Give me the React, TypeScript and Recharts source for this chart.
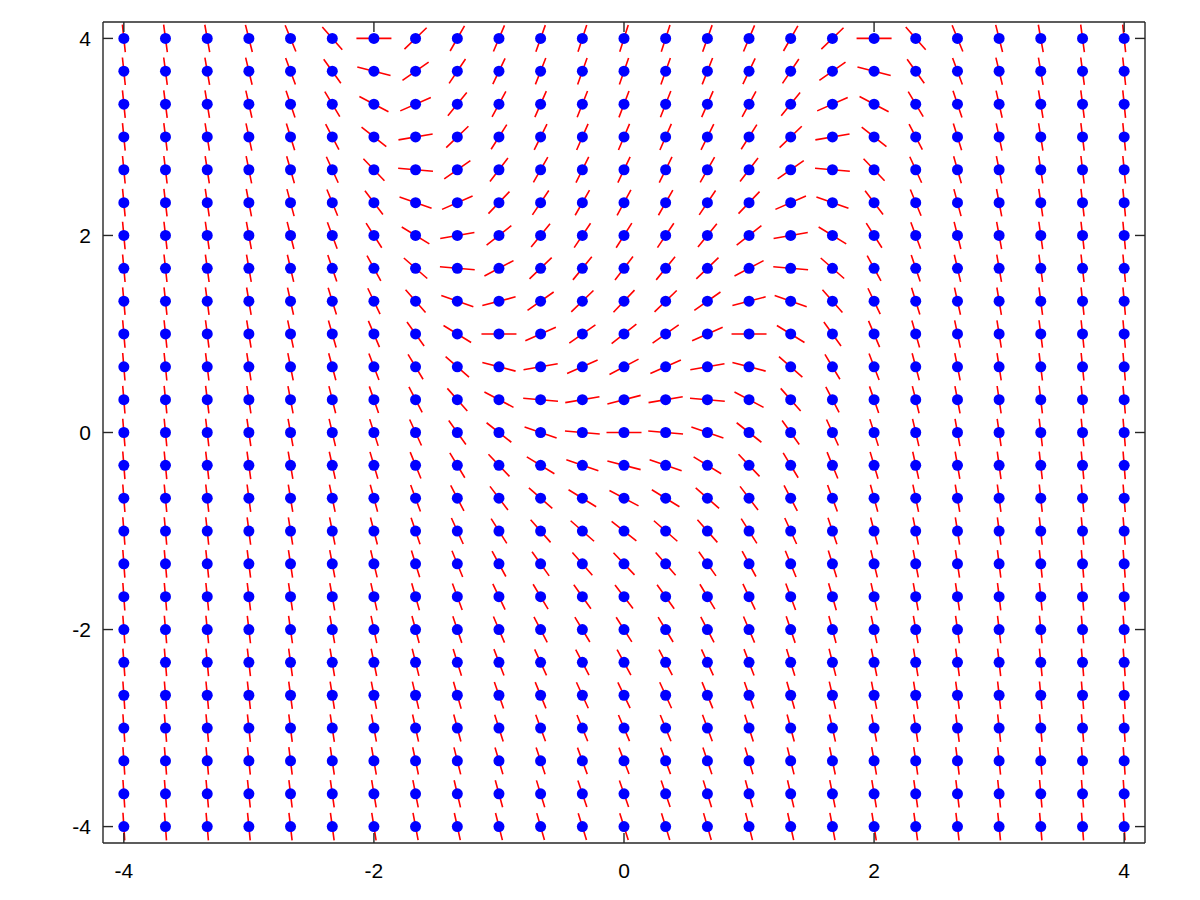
import {
  ComposedChart,
  Line,
  Scatter,
  XAxis,
  YAxis,
} from "recharts";

// grid positions (columns left to right, rows top to bottom)
const xValues = [
  -4, -3.667, -3.333, -3, -2.667, -2.333, -2, -1.667, -1.333, -1, -0.667, -0.333,
  0, 0.333, 0.667, 1, 1.333, 1.667, 2, 2.333, 2.667, 3, 3.333, 3.667, 4,
];
const yValues = [
  4, 3.667, 3.333, 3, 2.667, 2.333, 2, 1.667, 1.333, 1, 0.667, 0.333,
  0, -0.333, -0.667, -1, -1.333, -1.667, -2, -2.333, -2.667, -3, -3.333, -3.667, -4,
];

// slope read at every grid point, one row per y value
const slopes = [
  [-12, -9.44, -7.11, -5, -3.11, -1.44, 0, 1.22, 2.22, 3, 3.56, 3.89, 4, 3.89, 3.56, 3, 2.22, 1.22, 0, -1.44, -3.11, -5, -7.11, -9.44, -12],
  [-12.33, -9.78, -7.44, -5.33, -3.44, -1.78, -0.33, 0.89, 1.89, 2.67, 3.22, 3.56, 3.67, 3.56, 3.22, 2.67, 1.89, 0.89, -0.33, -1.78, -3.44, -5.33, -7.44, -9.78, -12.33],
  [-12.67, -10.11, -7.78, -5.67, -3.78, -2.11, -0.67, 0.56, 1.56, 2.33, 2.89, 3.22, 3.33, 3.22, 2.89, 2.33, 1.56, 0.56, -0.67, -2.11, -3.78, -5.67, -7.78, -10.11, -12.67],
  [-13, -10.44, -8.11, -6, -4.11, -2.44, -1, 0.22, 1.22, 2, 2.56, 2.89, 3, 2.89, 2.56, 2, 1.22, 0.22, -1, -2.44, -4.11, -6, -8.11, -10.44, -13],
  [-13.33, -10.78, -8.44, -6.33, -4.44, -2.78, -1.33, -0.11, 0.89, 1.67, 2.22, 2.56, 2.67, 2.56, 2.22, 1.67, 0.89, -0.11, -1.33, -2.78, -4.44, -6.33, -8.44, -10.78, -13.33],
  [-13.67, -11.11, -8.78, -6.67, -4.78, -3.11, -1.67, -0.44, 0.56, 1.33, 1.89, 2.22, 2.33, 2.22, 1.89, 1.33, 0.56, -0.44, -1.67, -3.11, -4.78, -6.67, -8.78, -11.11, -13.67],
  [-14, -11.44, -9.11, -7, -5.11, -3.44, -2, -0.78, 0.22, 1, 1.56, 1.89, 2, 1.89, 1.56, 1, 0.22, -0.78, -2, -3.44, -5.11, -7, -9.11, -11.44, -14],
  [-14.33, -11.78, -9.44, -7.33, -5.44, -3.78, -2.33, -1.11, -0.11, 0.67, 1.22, 1.56, 1.67, 1.56, 1.22, 0.67, -0.11, -1.11, -2.33, -3.78, -5.44, -7.33, -9.44, -11.78, -14.33],
  [-14.67, -12.11, -9.78, -7.67, -5.78, -4.11, -2.67, -1.44, -0.44, 0.33, 0.89, 1.22, 1.33, 1.22, 0.89, 0.33, -0.44, -1.44, -2.67, -4.11, -5.78, -7.67, -9.78, -12.11, -14.67],
  [-15, -12.44, -10.11, -8, -6.11, -4.44, -3, -1.78, -0.78, 0, 0.56, 0.89, 1, 0.89, 0.56, 0, -0.78, -1.78, -3, -4.44, -6.11, -8, -10.11, -12.44, -15],
  [-15.33, -12.78, -10.44, -8.33, -6.44, -4.78, -3.33, -2.11, -1.11, -0.33, 0.22, 0.56, 0.67, 0.56, 0.22, -0.33, -1.11, -2.11, -3.33, -4.78, -6.44, -8.33, -10.44, -12.78, -15.33],
  [-15.67, -13.11, -10.78, -8.67, -6.78, -5.11, -3.67, -2.44, -1.44, -0.67, -0.11, 0.22, 0.33, 0.22, -0.11, -0.67, -1.44, -2.44, -3.67, -5.11, -6.78, -8.67, -10.78, -13.11, -15.67],
  [-16, -13.44, -11.11, -9, -7.11, -5.44, -4, -2.78, -1.78, -1, -0.44, -0.11, 0, -0.11, -0.44, -1, -1.78, -2.78, -4, -5.44, -7.11, -9, -11.11, -13.44, -16],
  [-16.33, -13.78, -11.44, -9.33, -7.44, -5.78, -4.33, -3.11, -2.11, -1.33, -0.78, -0.44, -0.33, -0.44, -0.78, -1.33, -2.11, -3.11, -4.33, -5.78, -7.44, -9.33, -11.44, -13.78, -16.33],
  [-16.67, -14.11, -11.78, -9.67, -7.78, -6.11, -4.67, -3.44, -2.44, -1.67, -1.11, -0.78, -0.67, -0.78, -1.11, -1.67, -2.44, -3.44, -4.67, -6.11, -7.78, -9.67, -11.78, -14.11, -16.67],
  [-17, -14.44, -12.11, -10, -8.11, -6.44, -5, -3.78, -2.78, -2, -1.44, -1.11, -1, -1.11, -1.44, -2, -2.78, -3.78, -5, -6.44, -8.11, -10, -12.11, -14.44, -17],
  [-17.33, -14.78, -12.44, -10.33, -8.44, -6.78, -5.33, -4.11, -3.11, -2.33, -1.78, -1.44, -1.33, -1.44, -1.78, -2.33, -3.11, -4.11, -5.33, -6.78, -8.44, -10.33, -12.44, -14.78, -17.33],
  [-17.67, -15.11, -12.78, -10.67, -8.78, -7.11, -5.67, -4.44, -3.44, -2.67, -2.11, -1.78, -1.67, -1.78, -2.11, -2.67, -3.44, -4.44, -5.67, -7.11, -8.78, -10.67, -12.78, -15.11, -17.67],
  [-18, -15.44, -13.11, -11, -9.11, -7.44, -6, -4.78, -3.78, -3, -2.44, -2.11, -2, -2.11, -2.44, -3, -3.78, -4.78, -6, -7.44, -9.11, -11, -13.11, -15.44, -18],
  [-18.33, -15.78, -13.44, -11.33, -9.44, -7.78, -6.33, -5.11, -4.11, -3.33, -2.78, -2.44, -2.33, -2.44, -2.78, -3.33, -4.11, -5.11, -6.33, -7.78, -9.44, -11.33, -13.44, -15.78, -18.33],
  [-18.67, -16.11, -13.78, -11.67, -9.78, -8.11, -6.67, -5.44, -4.44, -3.67, -3.11, -2.78, -2.67, -2.78, -3.11, -3.67, -4.44, -5.44, -6.67, -8.11, -9.78, -11.67, -13.78, -16.11, -18.67],
  [-19, -16.44, -14.11, -12, -10.11, -8.44, -7, -5.78, -4.78, -4, -3.44, -3.11, -3, -3.11, -3.44, -4, -4.78, -5.78, -7, -8.44, -10.11, -12, -14.11, -16.44, -19],
  [-19.33, -16.78, -14.44, -12.33, -10.44, -8.78, -7.33, -6.11, -5.11, -4.33, -3.78, -3.44, -3.33, -3.44, -3.78, -4.33, -5.11, -6.11, -7.33, -8.78, -10.44, -12.33, -14.44, -16.78, -19.33],
  [-19.67, -17.11, -14.78, -12.67, -10.78, -9.11, -7.67, -6.44, -5.44, -4.67, -4.11, -3.78, -3.67, -3.78, -4.11, -4.67, -5.44, -6.44, -7.67, -9.11, -10.78, -12.67, -14.78, -17.11, -19.67],
  [-20, -17.44, -15.11, -13, -11.11, -9.44, -8, -6.78, -5.78, -5, -4.44, -4.11, -4, -4.11, -4.44, -5, -5.78, -6.78, -8, -9.44, -11.11, -13, -15.11, -17.44, -20],
];

const axisTicks = [-4, -2, 0, 2, 4];

const HALF = 0.14; // half segment length, data units
const LIM = 25 / 6;

const points: { x: number; y: number }[] = [];
const segments: { x: number; y: number | null }[] = [];
yValues.forEach((y, j) => {
  xValues.forEach((x, i) => {
    points.push({ x, y });
    const m = slopes[j][i];
    const n = Math.sqrt(1 + m * m);
    const dx = HALF / n;
    const dy = (m * HALF) / n;
    segments.push({ x: x - dx, y: y - dy });
    segments.push({ x: x + dx, y: y + dy });
    segments.push({ x: x + dx, y: null });
  });
});

const INK = "#262626";
const FONT = "Liberation Sans, Arial, Helvetica, sans-serif";
const frame = { stroke: INK, strokeWidth: 1.4 };

// ticks drawn inward, labels outside
const BottomTick = (p: any) => (
  <g>
    <line x1={p.x} x2={p.x} y1={p.y} y2={p.y - 10} stroke={INK} strokeWidth={1.4} />
    <text x={p.x} y={p.y + 35} textAnchor="middle" fontSize={21} fontFamily={FONT} fill="#000">
      {p.payload.value}
    </text>
  </g>
);
const LeftTick = (p: any) => (
  <g>
    <line x1={p.x} x2={p.x + 10} y1={p.y} y2={p.y} stroke={INK} strokeWidth={1.4} />
    <text x={p.x - 12} y={p.y + 7.5} textAnchor="end" fontSize={21} fontFamily={FONT} fill="#000">
      {p.payload.value}
    </text>
  </g>
);
const TopTick = (p: any) => (
  <line x1={p.x} x2={p.x} y1={p.y} y2={p.y + 10} stroke={INK} strokeWidth={1.4} />
);
const RightTick = (p: any) => (
  <line x1={p.x} x2={p.x - 10} y1={p.y} y2={p.y} stroke={INK} strokeWidth={1.4} />
);

const Dot = (props: any) => (
  <circle cx={props.cx} cy={props.cy} r={5.5} fill="#0000ff" />
);
const Nothing = () => <g />;

export default function App() {
  return (
    <div style={{ width: 1200, height: 900 }}>
      <style>{`body{margin:0}`}</style>
      <ComposedChart
        width={1200}
        height={900}
        margin={{ top: 21, right: 54, bottom: 0, left: 43 }}
      >
        <XAxis
          dataKey="x"
          type="number"
          domain={[-LIM, LIM]}
          ticks={axisTicks}
          allowDataOverflow
          height={57}
          tickSize={0}
          tickMargin={0}
          tickLine={false}
          tick={BottomTick}
          axisLine={frame}
        />
        <XAxis
          xAxisId="top"
          orientation="top"
          dataKey="x"
          type="number"
          domain={[-LIM, LIM]}
          ticks={axisTicks}
          allowDataOverflow
          height={1}
          tickSize={0}
          tickMargin={0}
          tickLine={false}
          tick={TopTick}
          axisLine={frame}
        />
        <YAxis
          dataKey="y"
          type="number"
          domain={[-LIM, LIM]}
          ticks={axisTicks}
          allowDataOverflow
          width={60}
          tickSize={0}
          tickMargin={0}
          tickLine={false}
          tick={LeftTick}
          axisLine={frame}
        />
        <YAxis
          yAxisId="right"
          orientation="right"
          dataKey="y"
          type="number"
          domain={[-LIM, LIM]}
          ticks={axisTicks}
          allowDataOverflow
          width={1}
          tickSize={0}
          tickMargin={0}
          tickLine={false}
          tick={RightTick}
          axisLine={frame}
        />
        <Line
          data={segments}
          dataKey="y"
          stroke="#ff0000"
          strokeWidth={1.6}
          dot={false}
          activeDot={false}
          connectNulls={false}
          isAnimationActive={false}
        />
        <Scatter data={points} shape={Dot} isAnimationActive={false} />
        <Scatter
          data={points}
          xAxisId="top"
          yAxisId="right"
          shape={Nothing}
          isAnimationActive={false}
        />
      </ComposedChart>
    </div>
  );
}
